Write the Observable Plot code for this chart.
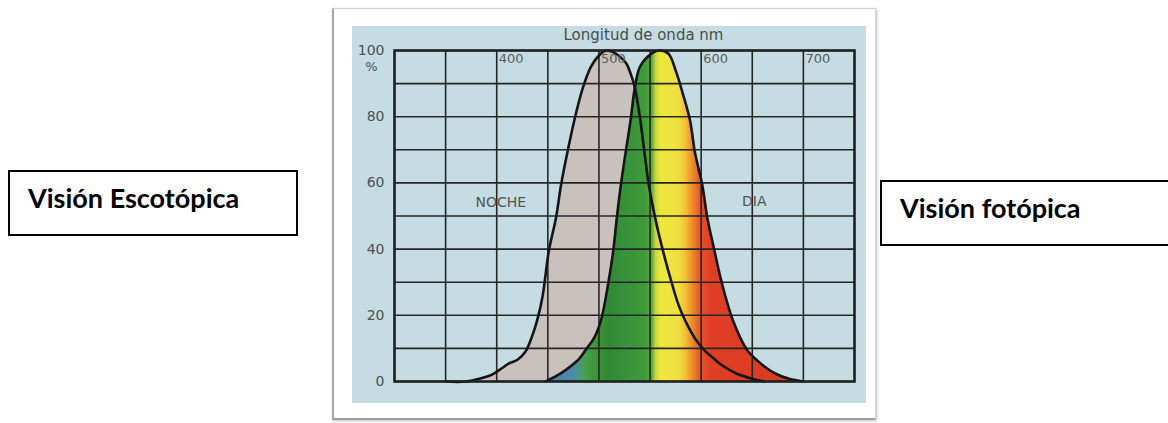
<!DOCTYPE html>
<html><head><meta charset="utf-8">
<script src="https://cdn.jsdelivr.net/npm/d3@7"></script>
<script src="https://cdn.jsdelivr.net/npm/@observablehq/plot@0.6"></script>
<style>
html,body{margin:0;padding:0;background:#fff;width:1168px;height:423px;overflow:hidden;position:relative}
#frame{position:absolute;left:332px;top:8px;width:541px;height:409px;background:#fff;border:1px solid #d2d2d2;border-left:2px solid #a8a8a8;border-bottom:2px solid #9c9c9c;box-shadow:1px 1px 3px rgba(0,0,0,.25)}
#panel{position:absolute;left:352px;top:26px;width:514px;height:377px;background:#c4dce2;overflow:hidden}
.box{position:absolute;border:2px solid #000;background:#fff;box-sizing:border-box;font-family:Lato,"Open Sans",sans-serif;font-weight:700;font-size:27px;color:#000}
.box span{position:absolute;left:18px;top:12px;line-height:27px;white-space:nowrap}
#boxL{left:8px;top:170px;width:290px;height:66px}
#boxR{left:880px;top:180px;width:300px;height:66px}
</style></head>
<body>
<div id="frame"></div>
<div id="panel"></div>
<div class="box" id="boxL"><span>Visión Escotópica</span></div>
<div class="box" id="boxR"><span>Visión fotópica</span></div>
<script>
// ---- data ----
const xDomain = [300, 750];
const yDomain = [0, 100];
const xGrid = [350, 400, 450, 500, 550, 600, 650, 700];
const yGrid = [10, 20, 30, 40, 50, 60, 70, 80, 90];
const yTicks = [0, 20, 40, 60, 80, 100];
const xTickLabels = [400, 500, 600, 700];
const title = "Longitud de onda nm";

// scotopic (NOCHE) curve
const scotNm  = [350, 370, 385, 395, 405, 412, 420, 428, 435, 440, 445, 451, 458, 463, 469, 476, 484, 492, 500, 507, 514, 521, 527, 531, 535, 540, 545, 549, 556, 563, 571, 578, 585, 594, 603, 612, 620, 634, 648, 662];
const scotPct = [0,   0,   1,   2,   4,   5.5, 6.5, 9,   14,  19,  26,  39.5,49.5,59.5,69,  79,  88.5,95,  98.5,100, 99.5,98,  96,  93,  89,  80,  68,  59,  48,  39,  30,  23,  18,  13,  9.5, 7,   5,   2.5, 1,   0];

// photopic (DIA) curve
const photNm  = [448, 463, 472, 481, 488, 495, 502, 509, 514, 517.5, 521.5, 526, 531, 535, 540, 549, 559, 568, 575, 582, 589, 594, 601, 606, 613, 620, 631, 645, 660, 672, 686, 700];
const photPct = [0,   2.5, 4.5, 7,   10,  13,  18.5,29.5,39.5,49.5,  59.5,  69,  79,  88.5,95,  98.5,100, 99,  94,  87,  79,  69,  59.5,49.5,39.5,30,  18.5,9.5, 5,   2.5, 0.8, 0];

// region labels
const regionLabel = ["NOCHE", "DIA"];
const regionNm    = [404, 652];
const regionPct   = [54, 54.5];

// spectrum of the photopic fill (wavelength → colour)
const spectrumNm    = [450, 475, 483, 488, 500, 510, 525, 545, 552, 556, 561, 578, 585, 592, 600, 610, 700];
const spectrumColor = ["#4f7fae", "#4e89a8", "#4a9a70", "#45a043", "#3b9437", "#2f8a33", "#36923a", "#3f9a3a", "#5aa83a", "#c8d840", "#ece83c", "#f0e040", "#f3c035", "#ee8a2c", "#e5512a", "#df3f24", "#d93a22"];

// ---- build ----
const scot = scotNm.map((nm, i) => ({nm, v: scotPct[i]}));
const phot = photNm.map((nm, i) => ({nm, v: photPct[i]}));
const regions = regionLabel.map((t, i) => ({t, nm: regionNm[i], v: regionPct[i]}));
const curve = "catmull-rom";

const plot = Plot.plot({
  width: 514, height: 377,
  marginLeft: 42, marginRight: 12, marginTop: 24, marginBottom: 22,
  style: {background: "transparent", fontFamily: "'DejaVu Sans', sans-serif", overflow: "visible"},
  x: {domain: xDomain, axis: null},
  y: {domain: yDomain, axis: null},
  marks: [
    Plot.areaY(scot, {x: "nm", y: "v", fill: "#c9c1be", curve}),
    Plot.areaY(phot, {x: "nm", y: "v", fill: "url(#spectrum)", curve}),
    Plot.ruleX(xGrid, {stroke: "#262626", strokeWidth: 1.6}),
    Plot.ruleY(yGrid, {stroke: "#262626", strokeWidth: 1.6}),
    Plot.line(scot, {x: "nm", y: "v", stroke: "#151515", strokeWidth: 2.6, curve}),
    Plot.line(phot, {x: "nm", y: "v", stroke: "#151515", strokeWidth: 2.6, curve}),
    Plot.frame({stroke: "#1e1e1e", strokeWidth: 2.6}),
    Plot.axisY(yTicks, {anchor: "left", tickSize: 0, tickPadding: 10, fontSize: 14, color: "#505050", label: null}),
    Plot.text(["%"], {x: xDomain[0], y: 95, dx: -23, fontSize: 13, fill: "#505050"}),
    Plot.text(xTickLabels, {x: d => d, text: d => String(d), frameAnchor: "top", dy: 3, dx: 2, textAnchor: "start", lineAnchor: "top", fontSize: 13, fill: "#5e5e5e"}),
    Plot.text([title], {frameAnchor: "top", dx: 19, dy: -11, lineAnchor: "bottom", fontSize: 15, fill: "#4d4d4d", wordSpacing: 5}),
    Plot.text(regions, {x: "nm", y: "v", text: "t", fontSize: 14, fill: "#555"})
  ]
});

// spectrum gradient positioned with the plot's own x scale
const ns = "http://www.w3.org/2000/svg";
const xs = plot.scale("x");
const defs = document.createElementNS(ns, "defs");
const grad = document.createElementNS(ns, "linearGradient");
grad.setAttribute("id", "spectrum");
grad.setAttribute("gradientUnits", "userSpaceOnUse");
const n0 = spectrumNm[0], n1 = spectrumNm[spectrumNm.length - 1];
grad.setAttribute("x1", xs.apply(n0)); grad.setAttribute("x2", xs.apply(n1));
grad.setAttribute("y1", 0); grad.setAttribute("y2", 0);
spectrumNm.forEach((nm, i) => {
  const s = document.createElementNS(ns, "stop");
  s.setAttribute("offset", (nm - n0) / (n1 - n0));
  s.setAttribute("stop-color", spectrumColor[i]);
  grad.appendChild(s);
});
defs.appendChild(grad);
plot.insertBefore(defs, plot.firstChild);
document.getElementById("panel").appendChild(plot);
</script>
</body></html>
